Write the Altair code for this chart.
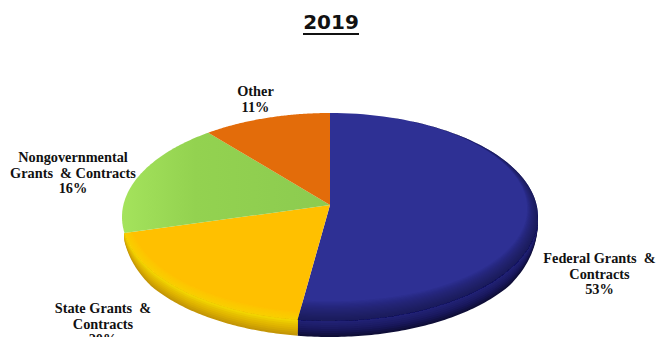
import math
import altair as alt

# Share of revenue by source, clockwise from twelve o'clock
sources = ["Federal Grants\u00a0 &\nContracts\n53%", "State Grants\u00a0 &\nContracts\n20%",
           "Nongovernmental\nGrants\u00a0 & Contracts\n16%", "Other\n11%"]
shares = [53, 20, 16, 11]

# Tilted-disc layout, in pixels
HUB_X, HUB_Y = 330, 205
OVAL_Y, RX, RY = 217, 208, 104
DEPTH = 16
VIEW_RY = 106
label_x = [599.5, 103, 73, 255.5]
label_y = [259, 309, 158, 92]
LINE = 15.6


def rim_point(turn, frac=1.0, drop=0.0):
    """Project an angle on the pie to the disc edge, as seen from the tilted viewpoint."""
    th = turn * 2 * math.pi
    ph = th + math.radians(7) * math.sin(th) * (1 - math.cos(th))
    dx, dy = RX * math.sin(ph), -VIEW_RY * math.cos(ph)
    off = HUB_Y - OVAL_Y
    a = dx * dx / RX**2 + dy * dy / RY**2
    b = 2 * off * dy / RY**2
    c = off * off / RY**2 - 1
    t = (-b + math.sqrt(b * b - 4 * a * c)) / (2 * a)
    return [HUB_X + frac * t * dx, HUB_Y + frac * t * dy + drop]


def span(t0, t1, n=90):
    return [t0 + (t1 - t0) * i / n for i in range(n + 1)]


def feature(points):
    return {"type": "Feature", "properties": {},
            "geometry": {"type": "Polygon", "coordinates": [points + [points[0]]]}}


def wedge(t0, t1):
    return feature([[HUB_X, HUB_Y]] + [rim_point(t) for t in span(t0, t1)])


def wall_drop(t):
    """Wall height: full along the front of the disc, fading out at its sides."""
    front = max(0.0, -math.cos(t * 2 * math.pi))
    return DEPTH * min(1.0, 1.5 * math.sqrt(front))


def side(t0, t1, part=1.0):
    ts = span(t0, t1)
    return feature([rim_point(t) for t in ts] + [rim_point(t, drop=part * wall_drop(t)) for t in reversed(ts)])


def band(t0, t1, width, power=1.0):
    """Crescent along the outer edge; widest toward the bottom of the disc."""
    ts = span(t0, t1)
    inner = [rim_point(t, frac=1 - width * ((1 - math.cos(t * 2 * math.pi)) / 2) ** power) for t in reversed(ts)]
    return feature([rim_point(t) for t in ts] + inner)


projection = alt.Projection(type="identity", scale=1, translate=[0, 0])


def shape(features, **style):
    return alt.Chart(alt.InlineData(values=features)).mark_geoshape(strokeWidth=0, **style).project(**projection.to_dict())


def h_grad(*stops):
    return alt.Gradient(gradient="linear", x1=0, y1=0, x2=1, y2=0,
                        stops=[alt.GradientStop(offset=o, color=c) for o, c in stops])


edges = [0]
for s in shares:
    edges.append(edges[-1] + s / 100)
blue, yellow, green, orange = [(edges[i], edges[i + 1]) for i in range(4)]

# Wall shades, from the bottom of the wall up to the face; later strips overpaint earlier ones
blue_wall = ["#0f0e38", "#121144", "#151450", "#18175a", "#1b1a62", "#1d1d68", "#1f1f6e", "#212174"]
yellow_wall = ["#c49606", "#cc9f04", "#d4a802", "#dcb000", "#e2b800", "#e6c000", "#ecca00", "#f2d400"]

layers = []
for j, shade in enumerate(blue_wall):
    layers.append(shape([side(0.25, blue[1], 1 - j / len(blue_wall))], fill=shade))
for j, shade in enumerate(yellow_wall):
    layers.append(shape([side(yellow[0], yellow[1], 1 - j / len(yellow_wall))], fill=shade))

layers += [
    # top faces
    shape([wedge(*blue)], fill="#2e3094"),
    shape([wedge(*yellow)], fill="#ffc000"),
    shape([wedge(*green)], fill=h_grad((0, "#a4e35c"), (0.35, "#93d250"), (1, "#8ccb50"))),
    shape([wedge(*orange)], fill="#e36c0a"),
]
# soft shading toward the rim of the top face
for j in range(1, 17):
    layers.append(shape([band(0.02, blue[1], 0.17 * j / 16, power=1.6)], fill="#0c0c40", opacity=0.05))
for j in range(1, 7):
    layers.append(shape([band(yellow[0], yellow[1], 0.07 * j / 6)], fill="#f4e400", opacity=0.1))

label_rows = [{"text": t, "px": x, "py": y} for t, x, y in zip(sources, label_x, label_y)]
labels = alt.Chart(alt.Data(values=label_rows)).mark_text(
    font="Liberation Serif", fontWeight="bold", fontSize=14.3, color="#111111",
    lineBreak="\n", lineHeight=LINE, align="center", baseline="middle",
).encode(
    x=alt.X("px:Q", scale=None, axis=None),
    y=alt.Y("py:Q", scale=None, axis=None),
    text="text:N",
)

title = alt.Chart(alt.Data(values=[{"t": "2019", "px": 331, "py": 23}])).mark_text(
    font="DejaVu Sans", fontWeight="bold", fontSize=20, color="#111111",
    align="center", baseline="middle",
).encode(
    x=alt.X("px:Q", scale=None, axis=None),
    y=alt.Y("py:Q", scale=None, axis=None),
    text="t:N",
)
underline = alt.Chart(alt.Data(values=[{"a": 303, "b": 359, "py": 34}])).mark_rule(
    color="#111111", strokeWidth=2
).encode(
    x=alt.X("a:Q", scale=None, axis=None),
    x2="b:Q",
    y=alt.Y("py:Q", scale=None, axis=None),
)

chart = alt.layer(*layers, labels, title, underline).properties(
    width=656, height=337, padding=0, autosize=alt.AutoSizeParams(type="none"), background="white"
).configure_view(stroke=None)

chart.save("out.html", embed_options={"renderer": "svg", "actions": False})
